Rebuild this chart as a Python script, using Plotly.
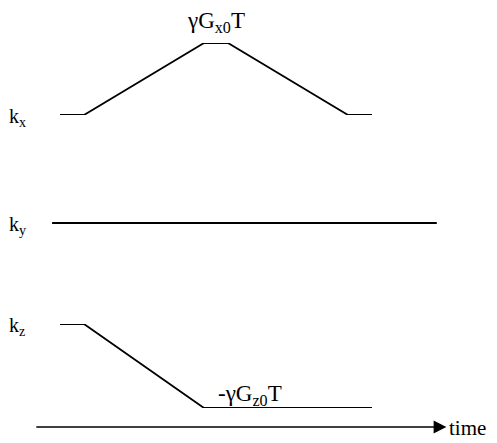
import plotly.graph_objects as go

# ---- data ----
kx_time = [0, 1, 6, 7, 12, 13]
kx_vals = [0, 0, 1, 1, 0, 0]          # in units of gamma*Gx0*T
ky_time = [-0.33, 15.7]
ky_vals = [0, 0]
kz_time = [0, 1, 6, 13]
kz_vals = [0, 0, -1, -1]              # in units of gamma*Gz0*T
time_axis = [-1.05, 16.1]
channel_labels = ["k<sub>x</sub>", "k<sub>y</sub>", "k<sub>z</sub>"]
kx_peak_label = "γG<sub>x0</sub>T"
kz_min_label = "-γG<sub>z0</sub>T"
time_label = "time"

# page body has an 8px default margin -> compensate
OFF = 8
W, H = 497 - OFF, 443 - OFF
FONT = "Liberation Serif"

def dom(p_lo, p_hi):
    # target window pixel rows (top-down) -> paper domain
    return [1 - (p_lo - OFF) / H, 1 - (p_hi - OFF) / H]

fig = go.Figure()
line = dict(color="black", width=1.8)
fig.add_trace(go.Scatter(x=kx_time, y=kx_vals, mode="lines", line=line, yaxis="y"))
fig.add_trace(go.Scatter(x=ky_time, y=ky_vals, mode="lines", line=line, yaxis="y2"))
fig.add_trace(go.Scatter(x=kz_time, y=kz_vals, mode="lines", line=line, yaxis="y3"))

# x axis: window pixel 60 <-> t=0, 24 px per unit
x0_px, px_per = 60 - OFF, 24
xr = [-x0_px / px_per, (W - x0_px) / px_per]

hidden = dict(visible=False, showgrid=False, zeroline=False, fixedrange=True)
fig.update_layout(
    width=W, height=H,
    margin=dict(l=0, r=0, t=0, b=0),
    paper_bgcolor="white", plot_bgcolor="white",
    showlegend=False,
    font=dict(family=FONT, color="black", size=20),
    xaxis=dict(range=xr, **hidden),
    yaxis=dict(range=[0, 1], domain=dom(115, 43), **hidden),
    yaxis2=dict(range=[-1, 1], domain=dom(243, 203), **hidden),
    yaxis3=dict(range=[-1, 0], domain=dom(408, 324), **hidden),
)

ann = []
# channel labels
for lab, yref in zip(channel_labels, ["y", "y2", "y3"]):
    ann.append(dict(text=lab, xref="paper", x=0, xshift=7 - OFF, yref=yref, y=0, xanchor="left",
                    yanchor="middle", yshift=-2, showarrow=False, font=dict(size=20)))
# peak labels
ann.append(dict(text=kx_peak_label, x=(kx_time[2] + kx_time[3]) / 2, xref="x", y=1, yref="y",
                yanchor="bottom", yshift=5, showarrow=False, font=dict(size=23)))
ann.append(dict(text=kz_min_label, x=kz_time[2] + 0.5, xref="x", xanchor="left", y=-1, yref="y3",
                yanchor="bottom", yshift=-3, showarrow=False, font=dict(size=23)))
# time arrow
ty = 1 - (427 - OFF) / H
ann.append(dict(x=time_axis[1], y=ty, xref="x", yref="paper", ax=time_axis[0], ay=ty,
                axref="x", ayref="pixel", text="", showarrow=True, arrowhead=2,
                arrowsize=1.6, arrowwidth=1.6, arrowcolor="black"))
ann.append(dict(x=time_axis[1], y=ty, xref="x", yref="paper", text=time_label, xanchor="left",
                yanchor="middle", xshift=1, yshift=-1, showarrow=False, font=dict(size=21)))
fig.update_layout(annotations=ann)

fig.write_html("out.html")
